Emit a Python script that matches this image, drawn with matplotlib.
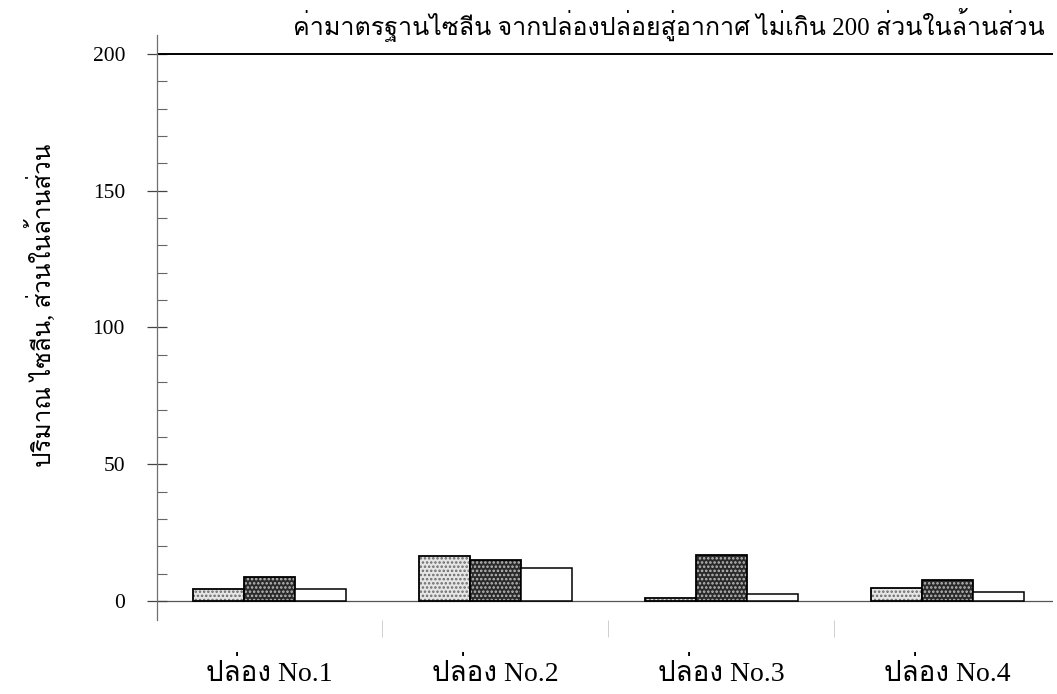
import numpy as np
import matplotlib
matplotlib.use("Agg")
import matplotlib.pyplot as plt
from matplotlib import font_manager
from matplotlib.ft2font import FT2Font

# data
groups = ["ปล่อง No.1", "ปล่อง No.2", "ปล่อง No.3", "ปล่อง No.4"]
series_a = [4.5, 16.5, 1.2, 4.6]
series_b = [8.9, 15.0, 16.7, 7.7]
series_c = [4.3, 12.0, 2.7, 3.3]
limit = 200
limit_text = "ค่ามาตรฐานไซลีน จากปล่องปล่อยสู่อากาศ ไม่เกิน 200 ส่วนในล้านส่วน"
ylabel = "ปริมาณ ไซลีน, ส่วนในล้านส่วน"


def find_thai_font():
    # pick any installed font that has Thai glyphs
    prefer = ["serif", "Serif", "Loma", "Garuda", "Norasi", "Kinnari"]
    found = []
    for path in font_manager.findSystemFonts():
        try:
            cmap = FT2Font(path).get_charmap()
        except Exception:
            continue
        if 0x0E1B in cmap and 0x0E48 in cmap:
            found.append(path)
    if not found:
        return None
    found.sort(key=lambda p: (not any(k in p for k in prefer), p))
    font_manager.fontManager.addfont(found[0])
    return font_manager.FontProperties(fname=found[0]).get_name()


thai = find_thai_font()
# serif first for latin/digits, thai font picks up the rest
fams = ["Liberation Serif"] + ([thai] if thai else []) + ["DejaVu Serif"]
plt.rcParams["font.family"] = fams
plt.rcParams["hatch.linewidth"] = 1.2

fig = plt.figure(figsize=(10.57, 6.94), dpi=100)
ax = fig.add_axes([0.1485, 0.1066, 0.848, 0.843])

x = np.arange(len(groups))
w = 0.226

# stippled light bars
ax.bar(x - w, series_a, w, color="#e6e6e6", edgecolor="#6a6a6a", hatch="....", linewidth=0)
ax.bar(x - w, series_a, w, color="none", edgecolor="black", linewidth=1.3)
# dark dotted bars
ax.bar(x, series_b, w, color="#2a2a2a", edgecolor="#bdbdbd", hatch="....", linewidth=0)
ax.bar(x, series_b, w, color="none", edgecolor="black", linewidth=1.3)
# open bars
ax.bar(x + w, series_c, w, color="white", edgecolor="black", linewidth=1.1)

ax.axhline(limit, color="black", lw=1.4)
ax.axhline(0, color="#555555", lw=0.9, zorder=0)
# x in axes fraction, y in data
ax.text(0.991, 204.5, limit_text, ha="right", va="bottom", fontsize=18,
        transform=ax.get_yaxis_transform())

ax.set_xlim(-0.497, 3.47)
ax.set_ylim(-7, 207)

for s in ["top", "right", "bottom"]:
    ax.spines[s].set_visible(False)
ax.spines["left"].set_color("#707070")
ax.spines["left"].set_linewidth(0.9)

ax.set_yticks([0, 50, 100, 150, 200])
ax.set_yticklabels(["0", "50", "100", "150", "200"], fontsize=15.5)
ax.set_yticks(np.arange(10, 200, 10), minor=True)
ax.tick_params(axis="y", which="major", direction="inout", length=14, width=0.9,
               color="#444444", pad=16)
ax.tick_params(axis="y", which="minor", direction="in", length=7, width=0.8,
               color="#666666")

# faint separator ticks between groups
ax.set_xticks([0.5, 1.5, 2.5])
ax.set_xticklabels([])
ax.tick_params(axis="x", direction="out", length=12, width=0.6, color="#c8c8c8")

for xi, g in zip(x, groups):
    ax.text(xi, -21, g, ha="center", va="top", fontsize=20)

fig.text(0.038, 0.56, ylabel, rotation=90, ha="center", va="center", fontsize=17.5)

fig.savefig("out.png", dpi=100)
